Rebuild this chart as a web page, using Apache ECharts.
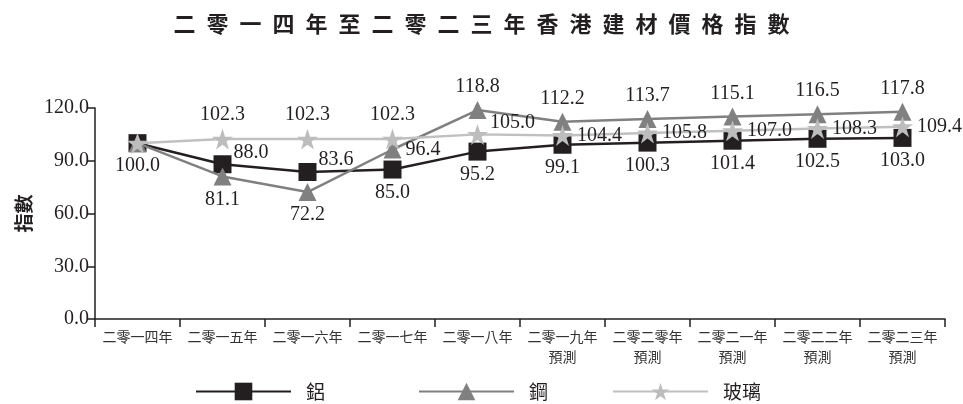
<!DOCTYPE html>
<html><head><meta charset="utf-8">
<script src="https://cdn.jsdelivr.net/npm/echarts@6/dist/echarts.min.js"></script>
<style>html,body{margin:0;padding:0;background:#fff}#c{width:963px;height:404px}</style>
</head><body><div id="c"></div>
<script>
const categories = ['二零一四年','二零一五年','二零一六年','二零一七年','二零一八年','二零一九年\n預測','二零二零年\n預測','二零二一年\n預測','二零二二年\n預測','二零二三年\n預測'];
const aluminium = [100.0, 88.0, 83.6, 85.0, 95.2, 99.1, 100.3, 101.4, 102.5, 103.0];
const steel = [100.0, 81.1, 72.2, 96.4, 118.8, 112.2, 113.7, 115.1, 116.5, 117.8];
const glass = [100.0, 102.3, 102.3, 102.3, 105.0, 104.4, 105.8, 107.0, 108.3, 109.4];
const yTicks = [0, 30, 60, 90, 120];
const titleText = '二零一四年至二零二三年香港建材價格指數';
// label placement per point ('none' hides)
const aluPos = ['bottom','rightTop','rightTop','bottom','bottom','bottom','bottom','bottom','bottom','bottom'];
const steelPos = ['none','bottom','bottom','right','top','top','top','top','top','top'];
const glassPos = ['none','top','top','top','rightTop','right','right','right','right','right'];

const serif = '"Liberation Serif","DejaVu Serif",serif';
const cjk = '"Noto Sans CJK TC","Noto Sans CJK SC",sans-serif';
const ink = '#231f20';

function mk(vals, pos){
  return vals.map((v,i)=>{
    const p = pos[i];
    if (p === 'none') return {value:v, label:{show:false}};
    let position = p, offset=[0,0];
    if (p === 'rightTop'){ position='right'; offset=[-2,-12]; }
    return {value:v, label:{show:true, position, offset}};
  });
}
const lbl = {show:true, fontFamily:serif, fontSize:20, color:ink, distance:4, formatter:p=>p.value.toFixed(1)};
const star = 'path://M50,0 L61.8,35.1 L98.9,35.1 L68.8,56.8 L80.3,92 L50,70.3 L19.7,92 L31.2,56.8 L1.1,35.1 L38.2,35.1 Z';
const legendText = {fontFamily:cjk, fontSize:19, color:ink, padding:[0,0,0,10]};

const chart = echarts.init(document.getElementById('c'));
chart.setOption({
  animation:false,
  title:{text:titleText.split('').join('\u2002'), left:'center', top:8,
    textStyle:{fontFamily:cjk, fontSize:22, fontWeight:'bold', color:ink}},
  grid:{left:95, right:18, top:108, bottom:85},
  legend:[
    {left:190, top:377, itemWidth:95, itemHeight:22, textStyle:legendText, data:['鋁']},
    {left:413, top:377, itemWidth:95, itemHeight:22, textStyle:legendText, data:['鋼']},
    {left:607, top:377, itemWidth:95, itemHeight:22, textStyle:legendText, data:['玻璃']}
  ],
  xAxis:{type:'category', data:categories, boundaryGap:true,
    axisLine:{lineStyle:{color:ink, width:1.5}},
    axisTick:{show:true, length:8, alignWithLabel:false, lineStyle:{color:ink, width:1.5}},
    axisLabel:{interval:0, fontFamily:cjk, fontSize:14, color:'#333', lineHeight:20, margin:8}},
  yAxis:{type:'value', min:0, max:120, interval:30, name:'指數', nameLocation:'middle', nameGap:62, nameRotate:90,
    nameTextStyle:{fontFamily:cjk, fontSize:19, fontWeight:'bold', color:ink},
    axisLine:{show:true, lineStyle:{color:ink, width:1.5}},
    axisTick:{show:true, length:8, lineStyle:{color:ink, width:1.5}},
    splitLine:{show:false},
    axisLabel:{fontFamily:serif, fontSize:20, color:ink, margin:6, formatter:v=>yTicks.includes(v)?v.toFixed(1):''}},
  series:[
    {name:'鋁', type:'line', data:mk(aluminium, aluPos), symbol:'rect', symbolSize:18,
     lineStyle:{color:ink, width:2.5}, itemStyle:{color:ink}, label:lbl, z:2},
    {name:'鋼', type:'line', data:mk(steel, steelPos), symbol:'triangle', symbolSize:18,
     lineStyle:{color:'#808080', width:2.5}, itemStyle:{color:'#808080'}, label:lbl, z:3},
    {name:'玻璃', type:'line', data:mk(glass, glassPos), symbol:star, symbolSize:21,
     lineStyle:{color:'#c0c0c0', width:2.5}, itemStyle:{color:'#bdbdbd'}, label:lbl, z:4}
  ]
});
</script></body></html>
